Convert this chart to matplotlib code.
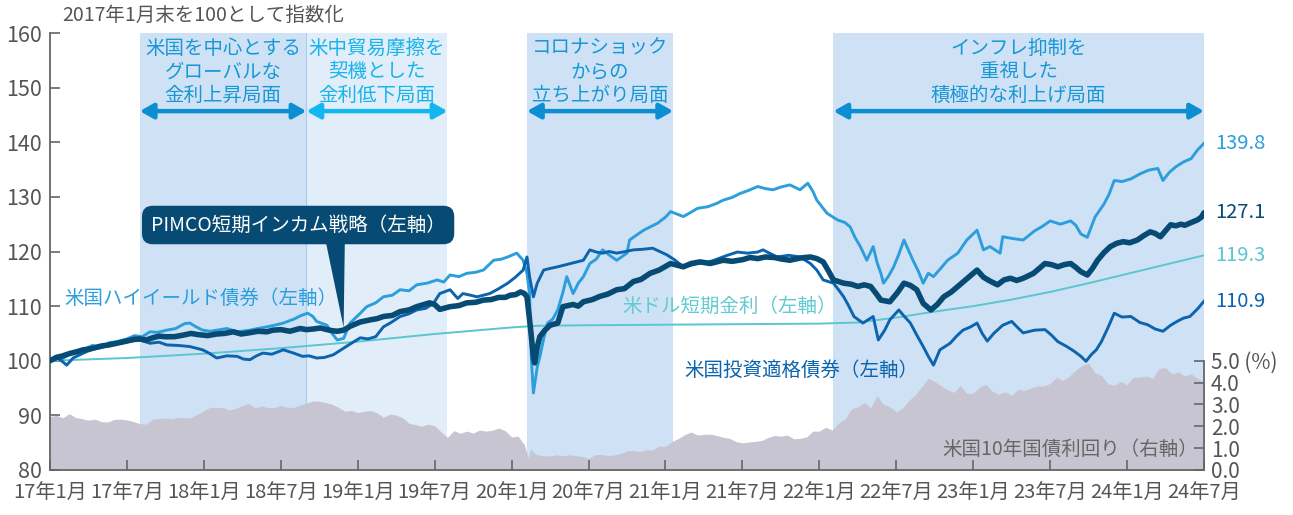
import numpy as np
import matplotlib
matplotlib.use("Agg")
import matplotlib.pyplot as plt
from matplotlib.patches import Polygon

plt.rcParams['font.family'] = ['Noto Sans CJK JP', 'DejaVu Sans']

# ---------------- data (x = months after end of Jan 2017) ----------------
tick_months = [0, 6, 12, 18, 24, 30, 36, 42, 48, 54, 60, 66, 72, 78, 84, 90]
tick_labels = ['17年1月', '17年7月', '18年1月', '18年7月', '19年1月', '19年7月',
               '20年1月', '20年7月', '21年1月', '21年7月', '22年1月', '22年7月',
               '23年1月', '23年7月', '24年1月', '24年7月']

# PIMCO short-term income strategy (month, index)
pimco_pts = [(0, 100.0), (0.5, 100.6), (1, 100.9), (1.5, 101.3), (2, 101.6), (2.6, 102.0),
             (3.2, 102.2), (4, 102.7), (4.6, 102.9), (5.2, 103.2), (6, 103.6), (6.5, 103.9),
             (7, 104.0), (7.5, 103.8), (8, 104.2), (8.5, 104.5), (9, 104.4), (9.7, 104.4),
             (10.4, 104.7), (11, 105.0), (11.5, 104.8), (12.3, 104.6), (13, 104.9), (13.6, 105.0),
             (14.3, 105.3), (14.9, 104.9), (15.5, 105.1), (16.2, 105.4), (16.9, 105.3),
             (17.4, 105.6), (18, 105.7), (18.7, 105.4), (19.5, 105.9), (20.0, 105.7),
             (20.5, 105.8), (21.1, 106.0), (21.6, 105.7), (22.0, 105.5), (22.4, 105.4),
             (22.9, 105.6), (23.4, 106.3), (24.2, 107.1), (25, 107.5), (25.5, 107.7), (26, 108.1),
             (26.7, 108.3), (27.3, 109.0), (28.0, 109.3), (28.6, 109.9), (29.6, 110.6),
             (30.0, 110.3), (30.4, 109.4), (31.2, 109.9), (31.9, 110.1), (32.5, 110.6),
             (33.2, 110.7), (33.8, 111.1), (34.4, 111.2), (35, 111.6), (35.5, 111.6),
             (35.9, 112.0), (36.3, 112.1), (36.7, 112.6), (37.0, 112.3), (37.2, 111.7),
             (37.45, 106.5), (37.7, 100.7), (37.8, 99.6), (38.0, 102.5), (38.2, 104.4),
             (38.6, 105.6), (39.0, 106.5), (39.6, 106.9), (40.0, 109.9), (40.8, 110.3),
             (41.2, 110.0), (41.6, 110.8), (42.3, 111.2), (42.9, 111.8), (43.5, 112.2),
             (44.2, 113.0), (44.8, 113.2), (45.5, 114.5), (46.1, 114.9), (46.8, 116.0),
             (47.5, 116.6), (48.4, 117.8), (49.4, 117.2), (50.0, 117.8), (50.7, 118.1),
             (51.5, 117.8), (52.5, 118.4), (53.2, 118.2), (54, 118.5), (54.6, 118.9),
             (55.2, 118.7), (55.8, 119.0), (56.5, 118.9), (57.1, 118.6), (57.7, 118.4),
             (58.5, 118.8), (59.3, 119.0), (59.8, 118.7), (60.3, 118.1), (60.7, 116.5),
             (61.1, 114.8), (61.9, 114.2), (62.5, 114.0), (63.0, 113.6), (63.5, 113.9),
             (64.0, 113.6), (64.4, 112.4), (64.8, 111.1), (65.5, 110.8), (66.1, 112.5),
             (66.6, 114.2), (67.1, 113.8), (67.6, 113.0), (68.1, 110.5), (68.7, 109.3),
             (69.2, 110.3), (69.7, 111.7), (70.3, 112.6), (70.8, 113.6), (71.5, 115.0),
             (72.3, 116.6), (72.8, 115.3), (73.3, 114.6), (73.9, 113.9), (74.4, 114.8),
             (74.9, 115.1), (75.4, 114.7), (75.9, 115.1), (76.7, 116.0), (77.6, 117.8),
             (78.1, 117.6), (78.6, 117.2), (79.1, 117.6), (79.6, 117.8), (80.0, 117.1),
             (80.4, 116.3), (80.9, 115.7), (81.3, 116.9), (81.7, 118.4), (82.2, 119.8),
             (82.7, 120.9), (83.2, 121.5), (83.7, 121.8), (84.2, 121.6), (84.8, 122.1),
             (85.3, 122.9), (85.8, 123.6), (86.2, 123.3), (86.6, 122.7), (87.0, 123.8),
             (87.4, 124.9), (87.8, 124.7), (88.2, 125.0), (88.5, 124.8), (88.9, 125.2),
             (89.5, 125.8), (89.8, 126.3), (90, 127.1)]
pim_m = [p[0] for p in pimco_pts]
pim_v = [p[1] for p in pimco_pts]

# US high yield bonds
hy_m = [0, 0.5, 1, 1.5, 2, 2.6, 3.3, 4, 4.6, 5.2, 6, 6.6, 7.2, 7.8, 8.4, 9.1, 9.8, 10.5, 10.9, 11.4,
        11.9, 12.5, 13.0, 13.8, 14.6, 15.6, 16.2, 16.9, 17.5, 18.2, 19, 19.6, 20.1, 20.5, 20.8, 21.6,
        22.0, 22.4, 22.9, 23.4, 24.2, 24.7, 25.4, 26.0, 26.7, 27.3, 28.0, 28.6, 29.4, 30.2, 30.7,
        31.2, 31.9, 32.5, 33.2, 33.8, 34.6, 35.2, 35.7, 36.4, 36.9, 37.2, 37.4, 37.55, 37.7, 37.85,
        38.0, 38.2, 38.5, 38.8, 39.2, 39.6, 40.0, 40.3, 40.8, 41.2, 41.6, 42.1, 42.6, 43.1, 43.7,
        44.2, 45.0, 45.2, 45.8, 46.3, 46.9, 47.4, 48.0, 48.4, 49.4, 50.0, 50.5, 51.3, 52.0, 52.5,
        53.2, 53.8, 54.5, 55.2, 55.8, 56.4, 57.0, 57.7, 58.5, 59.1, 59.5, 59.8, 60.2, 60.6, 61.4,
        62.0, 62.4, 62.8, 63.2, 63.7, 64.2, 64.5, 64.8, 65.0, 65.4, 65.8, 66.2, 66.6, 67.0, 67.3,
        67.7, 68.1, 68.5, 68.9, 69.5, 70.0, 70.8, 71.5, 72.3, 72.8, 73.3, 73.9, 74.1, 74.3, 75.0,
        75.9, 76.8, 77.4, 78.0, 78.8, 79.6, 80.0, 80.4, 80.9, 81.5, 82.2, 82.6, 83.0, 83.6, 84.3,
        85.0, 85.7, 86.4, 86.8, 87.3, 87.8, 88.4, 89.0, 89.5, 90.0]
hy_v = [100.0, 100.9, 100.4, 101.2, 101.6, 102.0, 102.8, 102.5, 103.3, 103.5, 104.0, 104.6, 104.4,
        105.3, 105.2, 105.6, 105.9, 106.8, 106.9, 106.2, 105.6, 105.4, 105.6, 105.9, 105.3, 105.6,
        105.9, 106.2, 106.5, 106.9, 107.6, 108.3, 108.7, 108.1, 107.2, 106.5, 105.0, 103.8, 104.1,
        106.9, 108.7, 109.9, 110.6, 111.7, 112.0, 113.0, 112.8, 113.9, 114.2, 114.8, 114.4, 115.7,
        115.4, 116.0, 116.2, 116.6, 118.4, 118.6, 119.0, 119.7, 118.4, 116.0, 112.3, 100.0, 94.1,
        96.5, 98.9, 100.7, 104.0, 106.9, 107.6, 109.3, 112.5, 115.4, 112.3, 114.2, 115.4, 117.8,
        118.6, 120.3, 119.2, 118.4, 119.7, 122.1, 123.1, 123.9, 124.6, 125.2, 126.3, 127.3, 126.4,
        127.2, 127.9, 128.2, 128.8, 129.4, 129.9, 130.6, 131.2, 131.9, 131.5, 131.3, 131.8, 132.2,
        131.3, 132.5, 131.0, 129.4, 128.2, 127.0, 125.8, 125.3, 124.5, 122.5, 120.9, 118.4, 120.9,
        118.0, 116.0, 114.2, 115.5, 117.2, 119.5, 122.1, 120.0, 118.4, 116.5, 114.2, 116.0, 115.4,
        117.0, 118.4, 119.7, 122.1, 123.9, 120.3, 120.9, 120.0, 119.7, 122.7, 122.4, 122.1, 123.8,
        124.6, 125.6, 125.0, 125.6, 124.8, 123.2, 122.6, 126.3, 128.7, 130.5, 133.0, 132.8, 133.3,
        134.2, 134.9, 135.2, 133.0, 134.5, 135.5, 136.4, 137.0, 138.6, 139.8]

# US investment grade bonds
ig_m = [0, 0.5, 1.0, 1.3, 1.8, 2.6, 3.3, 4.0, 4.6, 5.2, 6.0, 7.0, 7.8, 8.5, 9.1, 10.0, 10.9, 11.9,
        12.4, 13.0, 13.8, 14.6, 15.1, 15.6, 16.1, 16.6, 17.3, 18.2, 19.0, 19.7, 20.2, 20.8, 21.4,
        22.1, 22.9, 23.5, 24.2, 24.8, 25.4, 26.0, 26.6, 27.3, 28.0, 28.6, 29.3, 29.9, 30.4, 31.2,
        31.8, 32.2, 32.8, 33.3, 34.3, 35.0, 35.7, 36.3, 36.9, 37.2, 37.4, 37.7, 38.0, 38.5, 39.0,
        39.6, 40.6, 41.6, 42.1, 42.6, 43.1, 43.6, 44.2, 44.9, 45.5, 46.2, 47.0, 48.1, 48.7, 49.4,
        50.0, 50.5, 51.2, 51.8, 52.7, 53.6, 54.4, 55.2, 55.6, 56.2, 56.7, 57.6, 58.5, 59.3, 59.8,
        60.3, 61.1, 61.5, 61.9, 62.3, 62.7, 63.4, 63.8, 64.2, 64.6, 65.1, 65.5, 66.2, 66.6, 67.1,
        67.6, 68.1, 68.5, 68.9, 69.4, 70.2, 70.7, 71.2, 71.8, 72.3, 72.7, 73.1, 73.6, 74.3, 75.0,
        75.5, 75.9, 76.8, 77.6, 78.1, 78.6, 79.3, 79.9, 80.4, 80.8, 81.2, 81.6, 82.0, 82.5, 83.0,
        83.6, 84.3, 85.0, 85.6, 86.2, 86.8, 87.4, 87.9, 88.4, 88.9, 89.5, 90.0]
ig_v = [100.0, 100.7, 99.8, 99.2, 100.5, 101.4, 102.1, 102.4, 102.9, 103.2, 103.5, 103.8, 103.2,
        103.4, 102.9, 102.8, 102.6, 102.0, 101.4, 100.5, 100.9, 100.8, 100.3, 100.2, 100.9, 101.4,
        101.2, 102.0, 101.4, 100.8, 100.9, 100.5, 100.6, 101.1, 102.3, 103.2, 104.2, 104.0, 104.4,
        106.2, 107.0, 108.1, 108.6, 109.3, 109.6, 110.5, 112.3, 113.0, 111.4, 112.3, 112.0, 111.7,
        112.3, 113.2, 114.2, 115.3, 116.6, 119.0, 115.4, 111.7, 114.2, 116.6, 116.9, 117.2, 117.8,
        118.4, 120.3, 119.9, 119.7, 120.0, 119.7, 120.0, 120.3, 120.4, 120.6, 119.4, 118.5, 117.2,
        117.5, 117.8, 118.0, 118.4, 119.2, 119.9, 119.7, 119.9, 120.3, 119.6, 119.0, 119.3, 119.0,
        117.8, 116.6, 114.8, 114.2, 113.0, 111.7, 110.0, 108.1, 106.9, 107.5, 108.1, 103.8, 105.6,
        107.5, 109.3, 108.2, 106.9, 104.7, 102.6, 100.8, 99.2, 102.0, 103.2, 104.5, 105.6, 106.2,
        106.9, 105.0, 103.6, 105.0, 106.5, 107.2, 106.0, 105.1, 105.6, 105.7, 104.7, 103.5, 102.6,
        101.7, 100.8, 99.9, 101.1, 102.0, 103.5, 106.0, 108.7, 108.0, 108.1, 107.0, 106.6, 105.8,
        105.4, 106.5, 107.2, 107.8, 108.1, 109.5, 110.9]

# USD short-term rate index
rate_m = [0, 6, 12, 18, 22, 24, 30, 36, 38, 42, 48, 54, 60, 63, 66, 69, 72, 75, 78, 81, 84, 87, 90]
rate_v = [100.0, 100.5, 101.3, 102.3, 103.1, 103.5, 104.9, 106.1, 106.4, 106.5, 106.6, 106.7, 106.8,
          107.0, 107.9, 109.0, 110.0, 111.2, 112.6, 114.2, 115.9, 117.6, 119.3]

# US 10-year Treasury yield (%), right axis
yld_m = [0, 0.5, 1, 1.5, 2, 2.5, 3, 3.5, 4, 4.5, 5, 5.5, 6, 6.5, 7, 7.5, 8, 8.5, 9, 9.5, 10, 10.5, 11,
         11.5, 12, 12.5, 13, 13.5, 14, 14.5, 15, 15.5, 16, 16.5, 17, 17.5, 18, 18.5, 19, 19.5, 20,
         20.5, 21, 21.5, 22, 22.5, 23, 23.5, 24, 24.5, 25, 25.5, 26, 26.5, 27, 27.5, 28, 28.5, 29,
         29.5, 30, 30.5, 31, 31.5, 32, 32.5, 33, 33.5, 34, 34.5, 35, 35.5, 36, 36.5, 37, 37.3, 37.5,
         37.7, 38, 38.5, 39, 39.5, 40, 40.5, 41, 41.5, 42, 42.5, 43, 43.5, 44, 44.5, 45, 45.5, 46,
         46.5, 47, 47.5, 48, 48.5, 49, 49.5, 50, 50.5, 51, 51.5, 52, 52.5, 53, 53.5, 54, 54.5, 55,
         55.5, 56, 56.5, 57, 57.5, 58, 58.5, 59, 59.5, 60, 60.5, 61, 61.5, 62, 62.5, 63, 63.5, 64,
         64.5, 65, 65.5, 66, 66.5, 67, 67.5, 68, 68.5, 69, 69.5, 70, 70.5, 71, 71.5, 72, 72.5, 73,
         73.5, 74, 74.5, 75, 75.5, 76, 76.5, 77, 77.5, 78, 78.5, 79, 79.5, 80, 80.5, 81, 81.5, 82,
         82.5, 83, 83.5, 84, 84.5, 85, 85.5, 86, 86.5, 87, 87.5, 88, 88.5, 89, 89.5, 90]
yld_v = [2.45, 2.50, 2.39, 2.58, 2.40, 2.35, 2.28, 2.33, 2.21, 2.20, 2.31, 2.33, 2.29, 2.22, 2.12,
         2.10, 2.33, 2.35, 2.38, 2.35, 2.41, 2.38, 2.40, 2.55, 2.72, 2.87, 2.86, 2.85, 2.74, 2.83,
         2.95, 3.05, 2.83, 2.93, 2.85, 2.86, 2.96, 2.87, 2.86, 2.98, 3.06, 3.16, 3.15, 3.08, 3.01,
         2.86, 2.69, 2.72, 2.63, 2.68, 2.72, 2.62, 2.41, 2.56, 2.51, 2.39, 2.14, 2.08, 2.00, 2.10,
         2.02, 1.75, 1.50, 1.80, 1.68, 1.78, 1.69, 1.83, 1.78, 1.82, 1.92, 1.80, 1.51, 1.55, 1.15,
         0.55, 1.00, 0.80, 0.70, 0.65, 0.64, 0.70, 0.65, 0.70, 0.66, 0.62, 0.53, 0.70, 0.71, 0.67,
         0.69, 0.75, 0.88, 0.90, 0.84, 0.92, 0.92, 1.10, 1.07, 1.30, 1.44, 1.62, 1.74, 1.60, 1.63,
         1.64, 1.58, 1.50, 1.45, 1.30, 1.24, 1.28, 1.31, 1.35, 1.49, 1.58, 1.55, 1.60, 1.43, 1.45,
         1.51, 1.78, 1.78, 1.96, 1.83, 2.15, 2.32, 2.80, 2.89, 3.10, 2.84, 3.40, 3.01, 2.90, 2.65,
         2.85, 3.19, 3.45, 3.83, 4.20, 4.05, 3.85, 3.68, 3.55, 3.88, 3.50, 3.52, 3.80, 3.92, 3.60,
         3.47, 3.58, 3.42, 3.70, 3.64, 3.75, 3.84, 3.85, 3.96, 4.25, 4.09, 4.30, 4.57, 4.80, 4.88,
         4.45, 4.33, 3.95, 3.88, 4.05, 3.91, 4.25, 4.25, 4.30, 4.20, 4.65, 4.68, 4.40, 4.50, 4.30,
         4.40, 4.20, 4.03]

# market phases (start, end in months)
phase_spans = [(7.0, 20.0), (20.0, 31.0), (37.2, 48.6), (61.1, 90.0)]
phase_texts = ['米国を中心とする\nグローバルな\n金利上昇局面',
               '米中貿易摩擦を\n契機とした\n金利低下局面',
               'コロナショック\nからの\n立ち上がり局面',
               'インフレ抑制を\n重視した\n積極的な利上げ局面']

# ---------------- styling ----------------
C_PIM = '#074b74'
C_HY = '#2c9edb'
C_IG = '#0b64ad'
C_RATE = '#5ac6cf'
C_YLD = '#c8c5d2'
C_SHADE = '#cfe2f5'
C_SHADE2 = '#e1edf8'
C_TXT1 = '#1797d6'
C_TXT2 = '#14b4ec'
C_AX = '#666666'
C_LAB = '#555555'

W, H = 1293, 515
fig = plt.figure(figsize=(W / 100, H / 100), dpi=100)
L, R, B, T = 50, 1204, 470, 33
ax = fig.add_axes([L / W, 1 - B / H, (R - L) / W, (B - T) / H])
ax2 = ax.twinx()
ax.set_zorder(2)
ax2.set_zorder(1)
ax.patch.set_visible(False)

ax.set_xlim(0, 90)
ax.set_ylim(80, 160)
ax2.set_ylim(0, 20)

# phase shading and grey yield area (lower layer)
shade_cols = [C_SHADE, C_SHADE2, C_SHADE, C_SHADE]
for (s, e), c in zip(phase_spans, shade_cols):
    ax2.axvspan(s, e, color=c, lw=0, zorder=0)
ax2.axvline(phase_spans[1][0], color='#aacdee', lw=0.8, zorder=0.5)
ax2.fill_between(yld_m, 0, yld_v, color=C_YLD, lw=0, zorder=1)

# lines
ax.plot(rate_m, rate_v, color=C_RATE, lw=1.4, zorder=3)
ax.plot(hy_m, hy_v, color=C_HY, lw=2.1, zorder=4, solid_joinstyle='round')
ax.plot(ig_m, ig_v, color=C_IG, lw=2.1, zorder=5, solid_joinstyle='round')
ax.plot(pim_m, pim_v, color=C_PIM, lw=4.0, zorder=6, solid_joinstyle='round', solid_capstyle='round')

# axes styling
for sp in ['top', 'right']:
    ax.spines[sp].set_visible(False)
for sp in ['top', 'left', 'bottom']:
    ax2.spines[sp].set_visible(False)
ax.spines['left'].set_color(C_AX)
ax.spines['bottom'].set_color(C_AX)
ax.spines['left'].set_linewidth(1.3)
ax.spines['bottom'].set_linewidth(1.3)
ax2.spines['right'].set_color(C_AX)
ax2.spines['right'].set_linewidth(1.3)
ax2.spines['right'].set_bounds(0, 5)

ax.set_xticks(tick_months)
ax.set_xticklabels(tick_labels)
ax.set_yticks(range(80, 161, 10))
ax.tick_params(axis='both', direction='in', length=7, width=1.2, color=C_AX, labelcolor=C_LAB)
ax.tick_params(axis='x', pad=9, labelsize=14.5)
ax.tick_params(axis='y', pad=6, labelsize=15.5)
ax2.set_yticks([0, 1, 2, 3, 4, 5])
ax2.set_yticklabels(['0.0', '1.0', '2.0', '3.0', '4.0', '5.0 (%)'])
ax2.tick_params(axis='y', direction='in', length=7, width=1.2, color=C_AX,
                labelcolor=C_LAB, labelsize=15, pad=5)

# title
fig.text(62 / W, 1 - 15 / H, '2017年1月末を100として指数化', fontsize=14, color=C_LAB,
         ha='left', va='center')

# phase texts and arrows
arrow_y = 145.7
text_y = 152.9
txt_cols = [C_TXT1, C_TXT2, C_TXT1, C_TXT1]
arr_cols = ['#0b8ed2', '#12b7ef', '#0b8ed2', '#0b8ed2']
for (s, e), t, tc, ac in zip(phase_spans, phase_texts, txt_cols, arr_cols):
    ax.text((s + e) / 2, text_y, t, ha='center', va='center', fontsize=14, color=tc,
            linespacing=1.17, zorder=9)
    ax.annotate('', xy=(e, arrow_y), xytext=(s, arrow_y),
                arrowprops=dict(arrowstyle='<|-|>,head_length=0.8,head_width=0.45',
                                lw=3.2, color=ac, shrinkA=0, shrinkB=0, mutation_scale=10),
                zorder=9)

# series labels
ax.text(1.1, 111.5, '米国ハイイールド債券（左軸）', color=C_HY, fontsize=14, ha='left', va='center', zorder=7)
ax.text(44.6, 110.0, '米ドル短期金利（左軸）', color='#62cad2', fontsize=14, ha='left', va='center', zorder=7)
ax.text(49.5, 98.3, '米国投資適格債券（左軸）', color=C_IG, fontsize=14, ha='left', va='center', zorder=7)
ax.text(89.5, 83.7, '米国10年国債利回り（右軸）', color='#666666', fontsize=14, ha='right', va='center', zorder=7)

# end value labels
for mm, vv, c in [(hy_m, hy_v, C_HY), (pim_m, pim_v, C_PIM), (rate_m, rate_v, C_RATE), (ig_m, ig_v, C_IG)]:
    ax.annotate(f'{vv[-1]:.1f}', xy=(mm[-1], vv[-1]), xytext=(8, 0), textcoords='offset points',
                ha='left', va='center', fontsize=14.5, color=c, annotation_clip=False, zorder=9)

# PIMCO callout
ax.text(19.35, 124.85, 'PIMCO短期インカム戦略（左軸）', color='white', fontsize=14,
        ha='center', va='center', zorder=11,
        bbox=dict(boxstyle='round,pad=0.45,rounding_size=0.55', fc=C_PIM, ec='none'))
tip_i = pim_m.index(22.9)
tip = (pim_m[tip_i], pim_v[tip_i] + 0.5)
ptr = Polygon([(21.4, 123.0), (23.0, 123.0), tip], closed=True, fc=C_PIM, ec='none', zorder=10)
ax.add_patch(ptr)

fig.savefig('out.png', dpi=100)
